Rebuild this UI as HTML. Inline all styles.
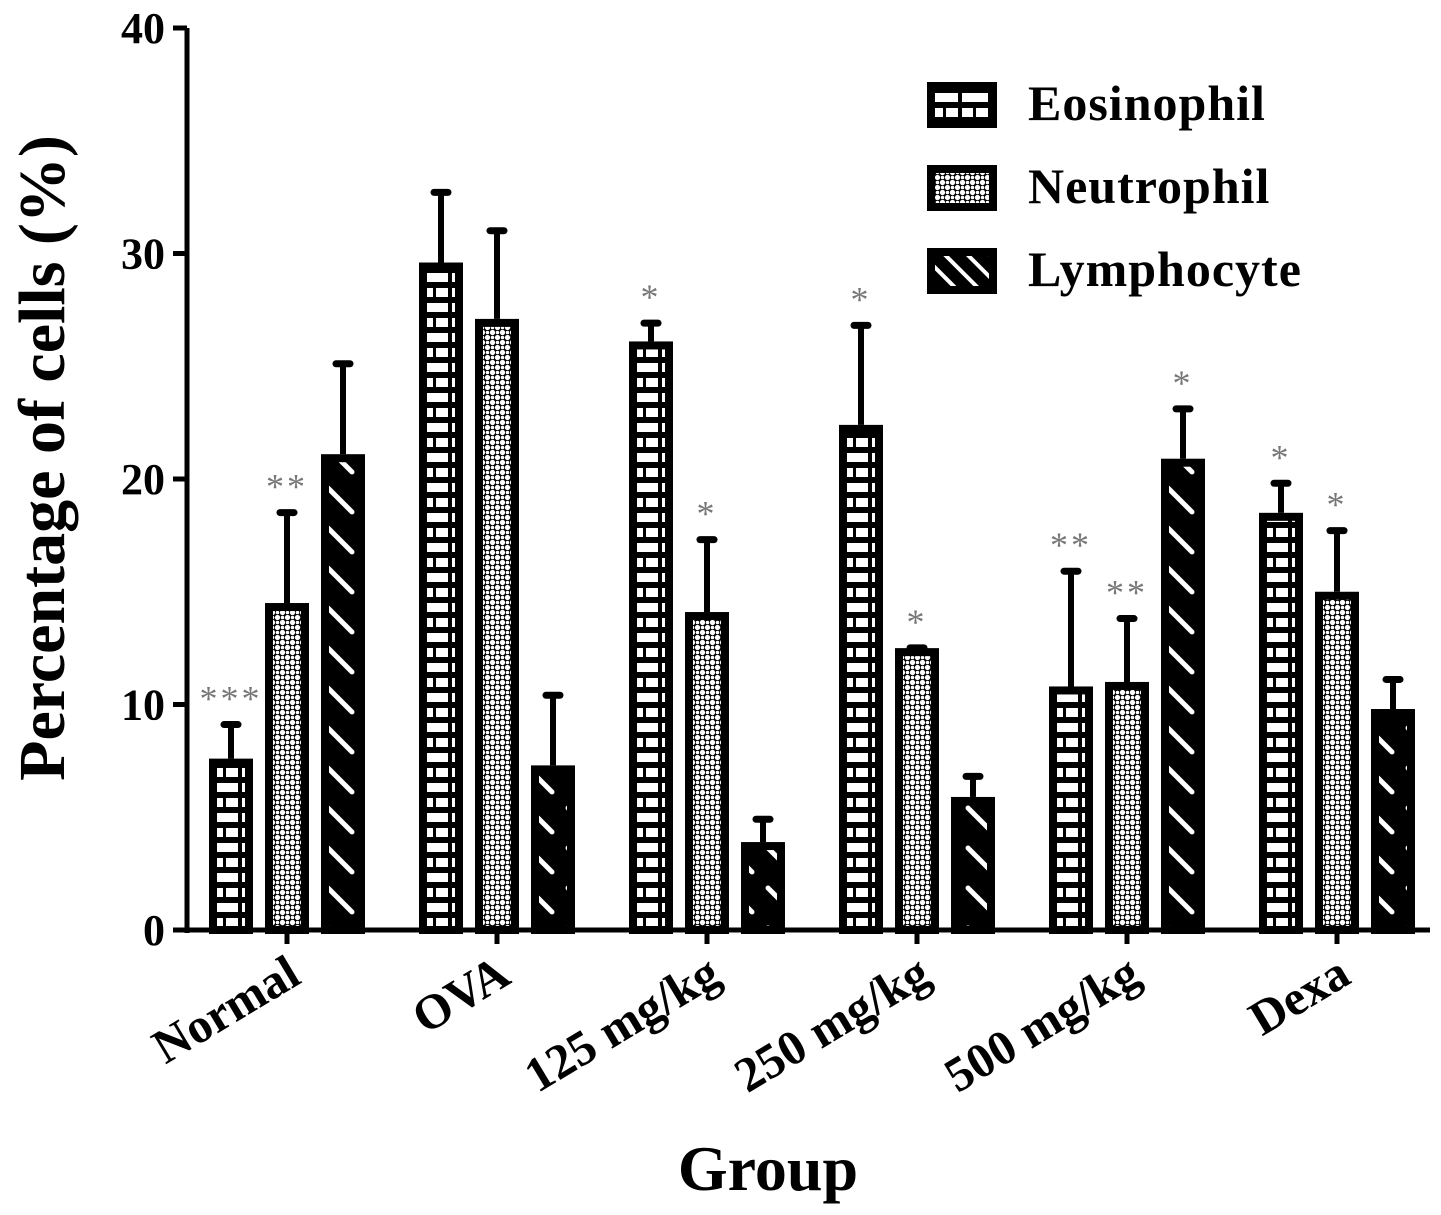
<!DOCTYPE html>
<html><head><meta charset="utf-8"><style>
body{margin:0;background:#fff}
svg{display:block;font-family:"Liberation Serif",serif;font-weight:bold}
</style></head><body>
<svg id="c" width="1441" height="1215" viewBox="0 0 1441 1215"></svg>
<script>
const categories=["Normal","OVA","125 mg/kg","250 mg/kg","500 mg/kg","Dexa"];
const seriesNames=["Eosinophil","Neutrophil","Lymphocyte"];
const eosinophil=[7.6,29.6,26.1,22.4,10.8,18.5];
const eosinophilErr=[9.2,32.8,27.0,26.9,16.0,19.9];
const neutrophil=[14.5,27.1,14.1,12.5,11.0,15.0];
const neutrophilErr=[18.6,31.1,17.4,12.6,13.9,17.8];
const lymphocyte=[21.1,7.3,3.9,5.9,20.9,9.8];
const lymphocyteErr=[25.2,10.5,5.0,6.9,23.2,11.2];
const eosStars=["***","","*","*","**","*"];
const neuStars=["**","","*","*","**","*"];
const lymStars=["","","","","*",""];
const yTicks=[0,10,20,30,40];

const NS="http://www.w3.org/2000/svg";
const svg=document.getElementById('c');
function el(t,a,p){const e=document.createElementNS(NS,t);for(const k in a)e.setAttribute(k,a[k]);(p||svg).appendChild(e);return e;}
const X0=187,Y0=930,Ytop=28;
function y(v){return Y0-(v/40)*(Y0-Ytop);}
function gx(i){return 287+i*210;}
const bw=44,step=56;

const defs=el('defs',{});
const pe=el('pattern',{id:'brick',patternUnits:'userSpaceOnUse',width:30,height:30,x:0,y:0},defs);
el('rect',{x:0,y:0,width:30,height:30,fill:'#000'},pe);
el('rect',{x:2,y:3,width:26,height:9,fill:'#fff'},pe);
el('rect',{x:2,y:18,width:11,height:9,fill:'#fff'},pe);
el('rect',{x:16,y:18,width:12,height:9,fill:'#fff'},pe);
const pn=el('pattern',{id:'dots',patternUnits:'userSpaceOnUse',width:10,height:10},defs);
el('rect',{x:0,y:0,width:10,height:10,fill:'#000'},pn);
el('circle',{cx:2.5,cy:2.5,r:2.6,fill:'#fff'},pn);
el('circle',{cx:7.5,cy:7.5,r:2.6,fill:'#fff'},pn);
el('circle',{cx:7.5,cy:2.5,r:1.8,fill:'#fff'},pn);
el('circle',{cx:2.5,cy:7.5,r:1.8,fill:'#fff'},pn);
const pl=el('pattern',{id:'diag',patternUnits:'userSpaceOnUse',width:40,height:40},defs);
el('rect',{x:0,y:0,width:40,height:40,fill:'#000'},pl);
el('line',{x1:8,y1:8,x2:32,y2:32,stroke:'#fff','stroke-width':5,'stroke-linecap':'round'},pl);
const pl2=el('pattern',{id:'diagL',patternUnits:'userSpaceOnUse',width:16,height:16,patternTransform:'rotate(45)'},defs);
el('rect',{x:0,y:0,width:16,height:16,fill:'#000'},pl2);
el('rect',{x:0,y:6,width:16,height:4,fill:'#fff'},pl2);
const fills=['url(#brick)','url(#dots)','url(#diag)'];
const lfills=['url(#brick)','url(#dots)','url(#diagL)'];

const ax=el('g',{});


el('line',{x1:X0,y1:Ytop,x2:X0,y2:Y0+3,stroke:'#000','stroke-width':5},ax);
el('line',{x1:X0-2,y1:Y0,x2:1430,y2:Y0,stroke:'#000','stroke-width':5},ax);
yTicks.forEach(v=>{
  el('line',{x1:X0-14,y1:y(v),x2:X0,y2:y(v),stroke:'#000','stroke-width':5},ax);
  const t=el('text',{x:X0-22,y:y(v)+15,'text-anchor':'end','font-size':44},ax);
  t.textContent=v;
  
  
});
const yt=el('text',{x:0,y:0,'text-anchor':'middle','font-size':66,transform:'translate(64,458) rotate(-90)'});
yt.textContent='Percentage of cells (%)';


const xt=el('text',{x:768,y:1190,'text-anchor':'middle','font-size':64});
xt.textContent='Group';



const series=[[eosinophil,eosinophilErr,eosStars],[neutrophil,neutrophilErr,neuStars],[lymphocyte,lymphocyteErr,lymStars]];
categories.forEach((c,i)=>{
  const cx=gx(i);
  el('line',{x1:cx,y1:Y0,x2:cx,y2:Y0+14,stroke:'#000','stroke-width':5},ax);
  const t=el('text',{x:0,y:0,'text-anchor':'end','font-size':49,transform:`translate(${cx+16},${Y0+52}) rotate(-31)`});
  t.textContent=c;
  
  
  series.forEach((s,j)=>{
    const v=s[0][i],e=s[1][i];
    const bx=cx-step+j*step-bw/2;
    const g=el('g',{});
    
    
    const mx=bx+bw/2;
    el('line',{x1:mx,y1:y(v),x2:mx,y2:y(e),stroke:'#000','stroke-width':6},g);
    el('line',{x1:mx-7,y1:y(e)+2,x2:mx+7,y2:y(e)+2,stroke:'#000','stroke-width':7,'stroke-linecap':'round'},g);
    el('rect',{x:bx+4,y:y(v)+4,width:bw-8,height:Y0-y(v)-4,fill:fills[j],stroke:'#000','stroke-width':8},g);
    if(s[2][i]){
      const st=el('text',{x:mx,y:y(e)-12,'text-anchor':'middle','font-size':36,fill:'#777','font-weight':'normal','letter-spacing':3},g);
      st.textContent=s[2][i];
      
      
    }
  });
});

const lg=el('g',{});


seriesNames.forEach((n,j)=>{
  const ly=82+j*83;
  const e=el('g',{},lg);
  
  
  el('rect',{x:931,y:ly+4,width:62,height:38,fill:lfills[j],stroke:'#000','stroke-width':8},e);
  const t=el('text',{x:1028,y:ly+38,'font-size':50,'letter-spacing':1},e);
  t.textContent=n;
});
</script>
</body></html>
